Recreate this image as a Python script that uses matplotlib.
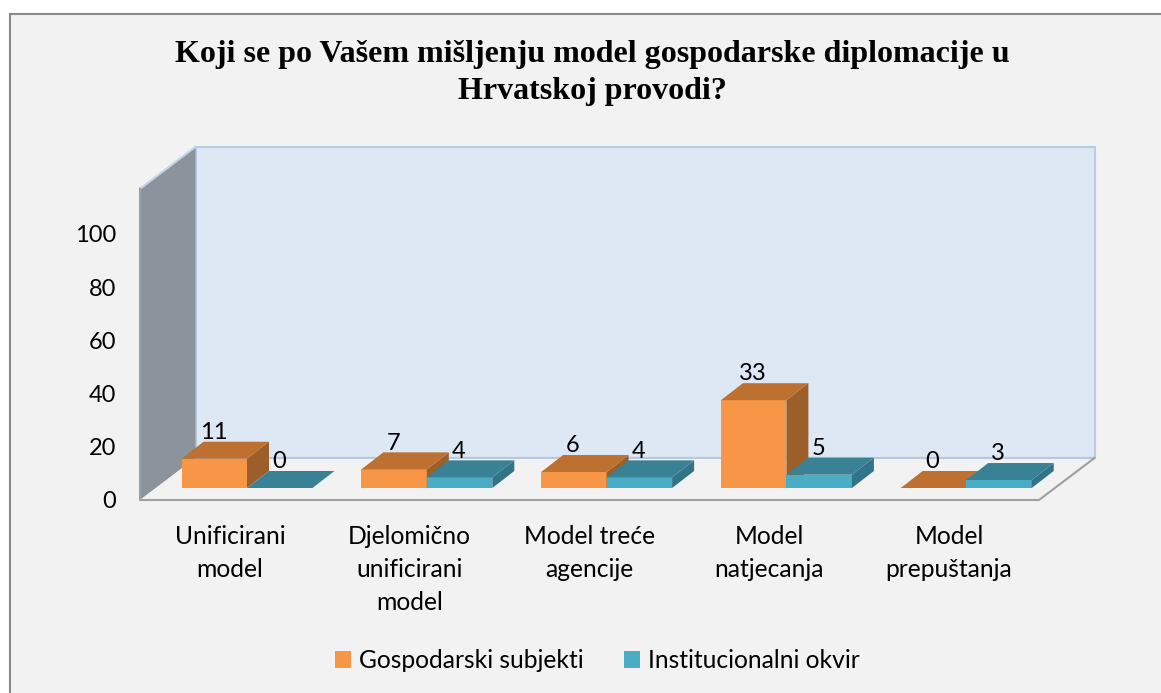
#!/usr/bin/env python3

import matplotlib
matplotlib.use("Agg")
import matplotlib.pyplot as plt
from matplotlib.patches import Polygon, Rectangle, Patch

title = "Koji se po Vašem mišljenju model gospodarske diplomacije u\nHrvatskoj provodi?"
categories = ["Unificirani\nmodel", "Djelomično\nunificirani\nmodel", "Model treće\nagencije",
              "Model\nnatjecanja", "Model\nprepuštanja"]
series_names = ["Gospodarski subjekti", "Institucionalni okvir"]
gospodarski = [11, 7, 6, 33, 0]
institucionalni = [0, 4, 4, 5, 3]
y_ticks = [0, 20, 40, 60, 80, 100]

W, H = 1161, 693
# px of one category and of one value unit
CAT_PX = 179.8
UNIT_PX = 2.66
# the 3d look: shear of floor and of one bar, in data units
FLOOR_DX, FLOOR_DY = 55.5 / CAT_PX, 42 / UNIT_PX
BAR_DX, BAR_DY = 22 / CAT_PX, 17 / UNIT_PX
BAR_W = 65.5 / CAT_PX
BAR_X0, BAR_Y0 = 41.5 / CAT_PX, 12 / UNIT_PX
Y_TOP = 117.0

ORANGE = ("#f79646", "#bd7030", "#9c5f2a")
TEAL = ("#4bacc6", "#398296", "#317388")
FONT = "Lato"
FS = 17
FS_TEXT = 17.7


def poly(ax, pts, color, edge="none", lw=0, z=1):
    ax.add_patch(Polygon(pts, closed=True, facecolor=color, edgecolor=edge, linewidth=lw,
                         zorder=z, clip_on=False))


def draw_box(ax, x, h, colors, z):
    y = BAR_Y0
    front, top, side = colors
    if h > 0:
        poly(ax, [(x, y), (x + BAR_W, y), (x + BAR_W, y + h), (x, y + h)], front, z=z)
        poly(ax, [(x + BAR_W, y), (x + BAR_W + BAR_DX, y + BAR_DY),
                  (x + BAR_W + BAR_DX, y + h + BAR_DY), (x + BAR_W, y + h)], side, z=z)
    poly(ax, [(x, y + h), (x + BAR_W, y + h), (x + BAR_W + BAR_DX, y + h + BAR_DY),
              (x + BAR_DX, y + h + BAR_DY)], top, z=z)
    ax.text(x + BAR_W / 2 - 0.005, y + h + BAR_DY + 3.5, str(h), ha="center", va="center",
            fontsize=FS, family=FONT, color="black", zorder=20)


def main():
    fig = plt.figure(figsize=(W / 100, H / 100), dpi=100, facecolor="white")
    fig.add_artist(Rectangle((9.5 / W, -0.02), 1.02, 1.02 - 13.5 / H, transform=fig.transFigure,
                             facecolor="#f2f2f2", edgecolor="#898989", linewidth=1.5, zorder=-1))

    ax = fig.add_axes([140 / W, 1 - 500 / H, CAT_PX * 5 / W, UNIT_PX * Y_TOP / H])
    ax.patch.set_visible(False)
    ax.set_xlim(0, 5)
    ax.set_ylim(0, Y_TOP)
    for s in ax.spines.values():
        s.set_visible(False)

    # walls and floor
    poly(ax, [(FLOOR_DX, FLOOR_DY), (5 + FLOOR_DX, FLOOR_DY), (5 + FLOOR_DX, Y_TOP + FLOOR_DY),
              (FLOOR_DX, Y_TOP + FLOOR_DY)], "#dde8f4", edge="#b9cde2", lw=1.5, z=1)
    poly(ax, [(0, 0), (FLOOR_DX, FLOOR_DY), (FLOOR_DX, Y_TOP + FLOOR_DY), (0, Y_TOP)], "#8b949c", z=2)
    ax.plot([0, FLOOR_DX], [Y_TOP, Y_TOP + FLOOR_DY], color="#c5d5e8", lw=1.5, zorder=3, clip_on=False)
    poly(ax, [(0, 0), (5, 0), (5 + FLOOR_DX, FLOOR_DY), (FLOOR_DX, FLOOR_DY)], "#f2f2f2", z=2)
    ax.plot([FLOOR_DX, 5 + FLOOR_DX], [FLOOR_DY, FLOOR_DY], color="#b9c8da", lw=1.5, zorder=3, clip_on=False)
    ax.plot([0, 0, 5, 5 + FLOOR_DX], [Y_TOP, 0, 0, FLOOR_DY], color="#a0a0a0", lw=1.5, zorder=3,
            clip_on=False)

    for i in range(len(categories)):
        x = i + BAR_X0
        draw_box(ax, x, gospodarski[i], ORANGE, 5 + i * 2)
        draw_box(ax, x + BAR_W, institucionalni[i], TEAL, 6 + i * 2)

    ax.set_yticks(y_ticks)
    ax.set_xticks([i + 0.5 for i in range(len(categories))])
    ax.set_xticklabels(categories, family=FONT, fontsize=FS_TEXT, linespacing=1.52)
    ax.set_yticklabels([str(v) for v in y_ticks], family=FONT, fontsize=FS)
    ax.tick_params(axis="both", length=0)
    ax.tick_params(axis="x", pad=18)
    ax.tick_params(axis="y", pad=17)

    fig.text(592 / W, 1 - 73 / H, title, ha="center", va="center", family="Liberation Serif",
             fontweight="bold", fontsize=23, linespacing=1.35)

    handles = [Patch(facecolor=ORANGE[0], label=series_names[0]), Patch(facecolor=TEAL[0], label=series_names[1])]
    fig.legend(handles=handles, loc="center", bbox_to_anchor=(597.5 / W, 1 - 660.5 / H), ncol=2, frameon=False,
               prop={"family": FONT, "size": FS_TEXT}, handlelength=0.65, handleheight=0.65, handletextpad=0.3,
               columnspacing=1.67)

    fig.savefig("out.png", dpi=100)


if __name__ == "__main__":
    main()
